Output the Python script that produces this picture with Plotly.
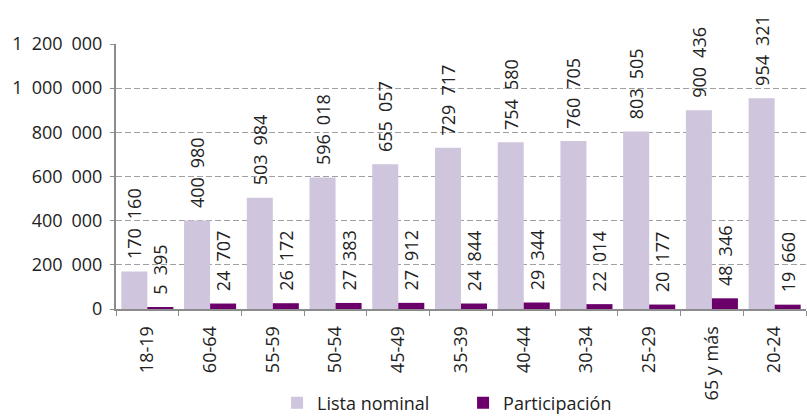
import plotly.graph_objects as go

categories = ["18-19", "60-64", "55-59", "50-54", "45-49", "35-39", "40-44", "30-34", "25-29", "65 y más", "20-24"]
lista_nominal = [170160, 400980, 503984, 596018, 655057, 729717, 754580, 760705, 803505, 900436, 954321]
participacion = [5395, 24707, 26172, 27383, 27912, 24844, 29344, 22014, 20177, 48346, 19660]
y_ticks = [0, 200000, 400000, 600000, 800000, 1000000, 1200000]

SP = "\u2002"
NBSP = "\u00a0"


def fmt(v):
    return f"{v:,}".replace(",", SP)


font = "Open Sans, Noto Sans, sans-serif"
fs = 18

fig = go.Figure()
fig.add_trace(go.Bar(
    x=categories, y=lista_nominal, name="Lista nominal",
    marker=dict(color="#CFC5DD", line=dict(width=0)),
    text=[NBSP * 2 + fmt(v) for v in lista_nominal], textposition="outside",
    textangle=-90, textfont=dict(size=fs, color="#222222", family=font),
    cliponaxis=False, constraintext="none",
))
fig.add_trace(go.Bar(
    x=categories, y=participacion, name="Participación",
    marker=dict(color="#6B006B", line=dict(width=0)),
    text=[NBSP * 2 + fmt(v) for v in participacion], textposition="outside",
    textangle=-90, textfont=dict(size=fs, color="#222222", family=font),
    cliponaxis=False, constraintext="none",
))

fig.update_layout(
    width=807, height=417,
    margin=dict(l=116, r=1, t=44, b=108, autoexpand=False),
    paper_bgcolor="white", plot_bgcolor="white",
    barmode="group", bargap=0.17, bargroupgap=0,
    font=dict(family=font, size=fs, color="#222222"),
    legend=dict(orientation="h", x=0.503, xanchor="center", y=-0.355, yanchor="middle",
                font=dict(size=fs, family=font), traceorder="normal",
                entrywidth=141, entrywidthmode="pixels"),
    showlegend=True,
)
fig.update_xaxes(
    type="category", tickangle=-90, showline=True, linecolor="#8C8C8C", linewidth=2,
    ticks="outside", tickson="boundaries", ticklen=5, tickcolor="#8C8C8C",
    tickfont=dict(size=fs, family=font, color="#222222"), showgrid=False,
    automargin=False, ticklabelstandoff=8,
)
fig.update_yaxes(
    range=[0, 1200000], tickvals=y_ticks, ticktext=[fmt(v) for v in y_ticks],
    showline=True, linecolor="#8C8C8C", linewidth=2,
    showgrid=True, gridcolor="#A0A0A0", griddash="6px,3px", gridwidth=1,
    ticks="outside", ticklen=4, tickcolor="#8C8C8C", tickwidth=1,
    tickfont=dict(size=fs, family=font, color="#222222"),
    zeroline=False, automargin=False, ticklabelstandoff=4,
)

fig.write_html("out.html", config={"displayModeBar": False},
               post_script="document.body.style.margin='0';document.body.style.overflow='hidden';")
